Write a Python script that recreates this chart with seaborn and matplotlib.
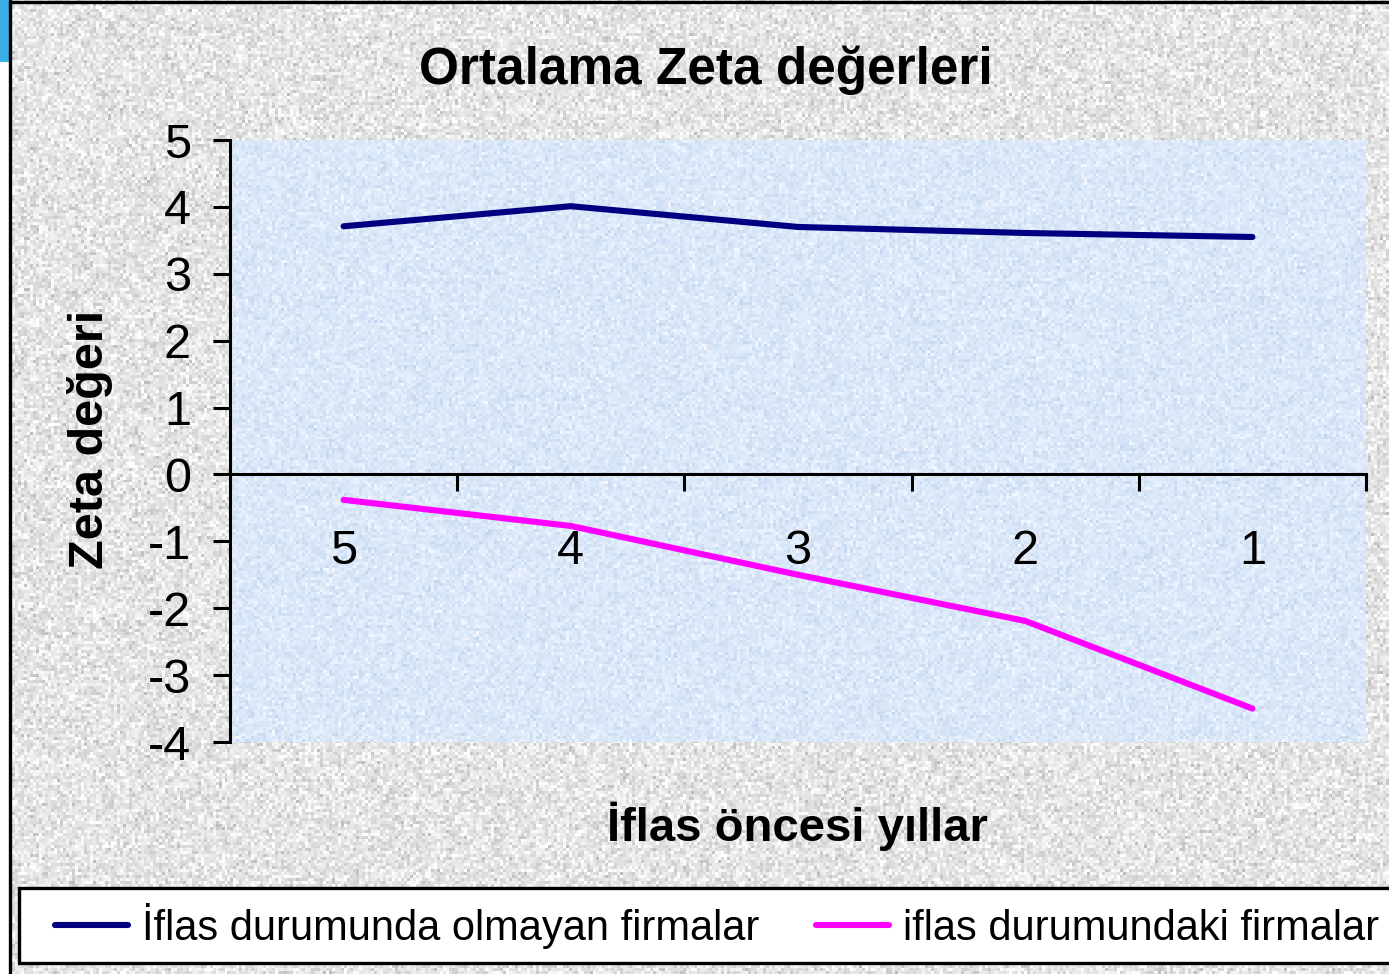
import numpy as np
import pandas as pd
import matplotlib
matplotlib.use("Agg")
import matplotlib.pyplot as plt
from matplotlib.lines import Line2D
from matplotlib.patches import Rectangle
import seaborn as sns

# ---- data ----
years = ["5", "4", "3", "2", "1"]
healthy = [3.71, 4.01, 3.70, 3.61, 3.55]
bankrupt = [-0.38, -0.77, -1.50, -2.19, -3.50]
series_names = ["İflas durumunda olmayan firmalar", "iflas durumundaki firmalar"]
y_ticks = [5, 4, 3, 2, 1, 0, -1, -2, -3, -4]

title = "Ortalama Zeta değerleri"
xlabel = "İflas öncesi yıllar"
ylabel = "Zeta değeri"

colors = ["#000080", "#ff00ff"]

df = pd.DataFrame({
    "yil": years * 2,
    "zeta": healthy + bankrupt,
    "seri": [series_names[0]] * len(years) + [series_names[1]] * len(years),
})

sns.set_theme(style="white")
plt.rcParams["font.family"] = ["Liberation Sans", "DejaVu Sans"]
plt.rcParams["text.color"] = "black"
plt.rcParams["xtick.color"] = "black"
plt.rcParams["ytick.color"] = "black"

W, H = 1389, 974
fig = plt.figure(figsize=(W / 100, H / 100), dpi=100)

# ---- textured background (decoration only) ----
rng = np.random.default_rng(7)
bg = fig.add_axes([0, 0, 1, 1], zorder=0)
bg.set_axis_off()
g = 0.90 + 0.06 * rng.standard_normal((H // 3 + 1, W // 3 + 1))
g = np.clip(g, 0.74, 1.0)
bg.imshow(np.dstack([g, g, g]), extent=[0, W, H, 0], aspect="auto", interpolation="nearest")
bg.set_xlim(0, W)
bg.set_ylim(H, 0)
bg.add_patch(Rectangle((0, 0), 9, H, facecolor="white", edgecolor="none"))
bg.add_patch(Rectangle((0, 0), 9, 62, facecolor="#3daee9", edgecolor="none"))
bg.plot([10, 10], [0, H], color="black", lw=2.4)
bg.plot([10, W], [1.5, 1.5], color="black", lw=2.4)
bg.add_patch(Rectangle((19, 888), W + 20 - 19, 963 - 888, facecolor="white",
                       edgecolor="black", lw=2.4))

# ---- main axes ----
ax = fig.add_axes([230 / W, 1 - 742 / H, 1136 / W, 602 / H], zorder=1)
ax.set_facecolor("none")
b = rng.standard_normal((602 // 3 + 1, 1136 // 3 + 1))
blue = np.dstack([
    np.clip(0.86 + 0.035 * b, 0.76, 0.96),
    np.clip(0.91 + 0.025 * b, 0.84, 0.97),
    np.clip(0.975 + 0.015 * b, 0.94, 1.0),
])
ax.imshow(blue, extent=[0, 1, 0, 1], transform=ax.transAxes, aspect="auto",
          interpolation="nearest", zorder=0)

sns.lineplot(data=df, x="yil", y="zeta", hue="seri", palette=colors, lw=4.4,
             ax=ax, legend=False, sort=False, zorder=3)

ax.set_xlim(-0.5, len(years) - 0.5)
ax.set_ylim(-4, 5)
ax.set_xlabel("")
ax.set_ylabel("")

for s in ["top", "right"]:
    ax.spines[s].set_visible(False)
ax.spines["left"].set_color("black")
ax.spines["left"].set_linewidth(2.2)
ax.spines["bottom"].set_color("black")
ax.spines["bottom"].set_linewidth(2.2)
ax.spines["bottom"].set_position(("data", 0))

ax.set_yticks(y_ticks)
ax.set_yticklabels([str(v) for v in y_ticks])
ax.tick_params(axis="y", direction="out", length=12, width=2.2, color="black",
               labelsize=35, pad=16, left=True, labelcolor="black")

ax.set_xticks(np.arange(-0.5, len(years), 1.0))
ax.set_xticklabels([""] * (len(years) + 1))
ax.set_xticks(np.arange(len(years)), minor=True)
ax.set_xticklabels(years, minor=True)
ax.tick_params(axis="x", which="major", direction="out", length=12, width=2.2,
               color="black", bottom=True)
ax.tick_params(axis="x", which="minor", length=0, labelsize=35, pad=39,
               labelcolor="black", bottom=True)
ax.grid(False)

# ---- texts ----
fig.text(706 / W, 1 - 70 / H, title, fontsize=37, fontweight="bold",
         ha="center", va="center", color="black", zorder=5)
fig.text(797 / W, 1 - 826 / H, xlabel, fontsize=34, fontweight="bold",
         ha="center", va="center", color="black", zorder=5)
fig.text(90 / W, 1 - 439 / H, ylabel, fontsize=35, fontweight="bold",
         rotation=90, ha="center", va="center", color="black", zorder=5)

# ---- legend ----
handles = [Line2D([], [], color=c, lw=4.4) for c in colors]
leg = fig.legend(handles, series_names, loc="center left",
                 bbox_to_anchor=(55 / W, 1 - 926 / H), ncol=2, frameon=False,
                 fontsize=30, handlelength=1.75, handletextpad=0.34,
                 columnspacing=1.35, borderpad=0, borderaxespad=0)
for t in leg.get_texts():
    t.set_color("black")
leg.set_zorder(6)

fig.savefig("out.png", dpi=100)
